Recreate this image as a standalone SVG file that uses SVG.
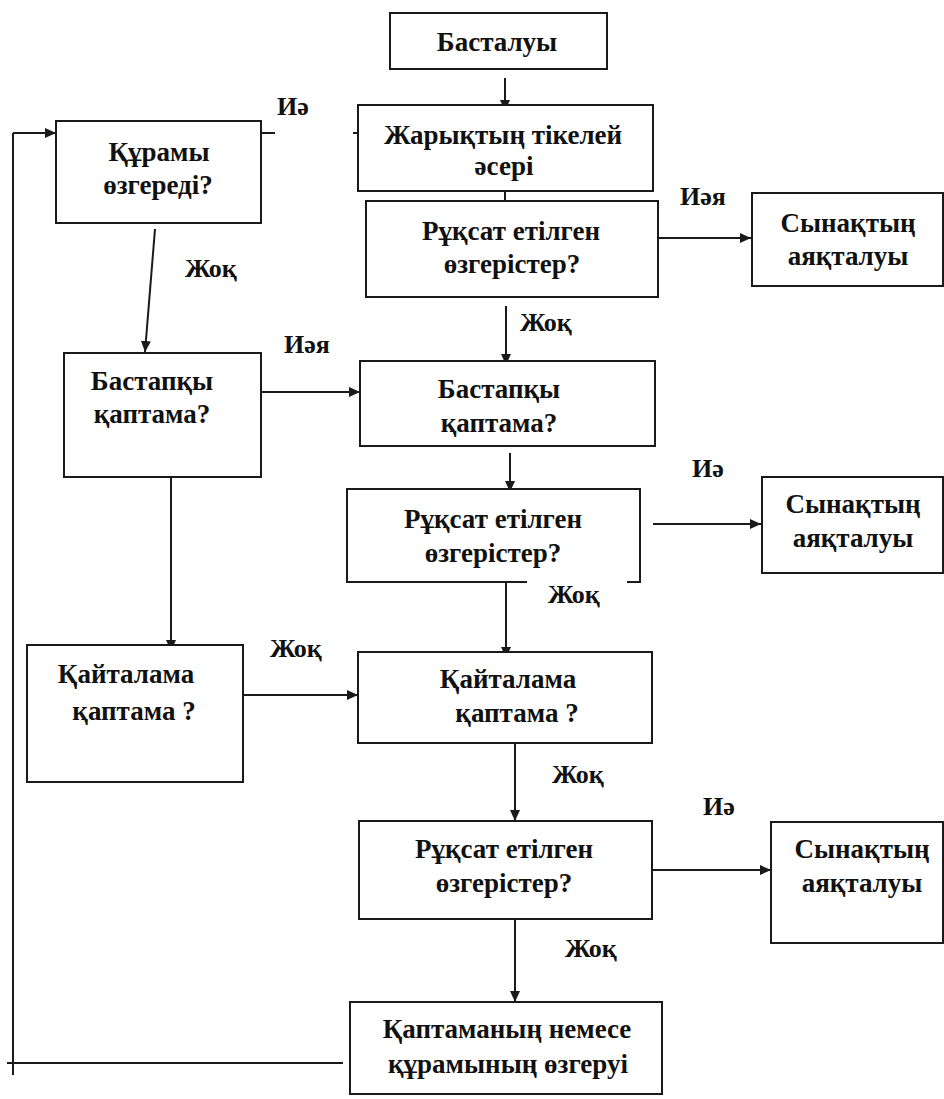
<svg xmlns="http://www.w3.org/2000/svg" width="944" height="1099" viewBox="0 0 944 1099" font-family="Liberation Serif, DejaVu Serif, serif">
<style>
.box{fill:#fff;stroke:#1a1a1a;stroke-width:2}
.t{font-weight:bold;font-size:27px;fill:#111;text-anchor:middle}
.lb{font-weight:bold;font-size:26px;fill:#111}
.c{fill:none;stroke:#1a1a1a;stroke-width:2}
</style>
<defs>
<marker id="ah" markerUnits="userSpaceOnUse" markerWidth="12" markerHeight="10" refX="11" refY="5" orient="auto">
<path d="M0,0 L11,5 L0,10 z" fill="#1a1a1a"/>
</marker>
</defs>
<rect width="944" height="1099" fill="#fff"/>
<g id="connectors">
<line class="c" x1="505" y1="78" x2="505" y2="111" marker-end="url(#ah)"/>
<line class="c" x1="505" y1="180" x2="505" y2="216" marker-end="url(#ah)"/>
<line class="c" x1="653" y1="238" x2="751" y2="238" marker-end="url(#ah)"/>
<line class="c" x1="506" y1="306" x2="506" y2="365" marker-end="url(#ah)"/>
<line class="c" x1="262" y1="133" x2="275" y2="133"/>
<line class="c" x1="353" y1="133" x2="358" y2="133"/>
<line class="c" x1="155" y1="229" x2="145" y2="352" marker-end="url(#ah)"/>
<line class="c" x1="262" y1="392" x2="360" y2="392" marker-end="url(#ah)"/>
<line class="c" x1="510" y1="453" x2="510" y2="492" marker-end="url(#ah)"/>
<line class="c" x1="653" y1="524" x2="761" y2="524" marker-end="url(#ah)"/>
<line class="c" x1="506" y1="578" x2="506" y2="658" marker-end="url(#ah)"/>
<line class="c" x1="171" y1="477" x2="171" y2="651" marker-end="url(#ah)"/>
<line class="c" x1="243" y1="695" x2="358" y2="695" marker-end="url(#ah)"/>
<line class="c" x1="515" y1="743" x2="515" y2="821" marker-end="url(#ah)"/>
<line class="c" x1="652" y1="870" x2="771" y2="870" marker-end="url(#ah)"/>
<line class="c" x1="515" y1="919" x2="515" y2="1002" marker-end="url(#ah)"/>
<line class="c" x1="7" y1="1063" x2="343" y2="1063"/>
<line class="c" x1="13" y1="1075" x2="13" y2="133"/>
<line class="c" x1="13" y1="133" x2="56" y2="133" marker-end="url(#ah)"/>
</g>
<g id="n-start"><rect class="box" x="390" y="13" width="217" height="56"/><text class="t" x="497" y="51">Басталуы</text></g>
<g id="n-light"><rect class="box" x="358" y="105" width="295" height="86"/><text class="t" x="503" y="144">Жарықтың тікелей</text><text class="t" x="504" y="175">әсері</text></g>
<g id="n-check1"><rect class="box" x="366" y="201" width="292" height="96"/><text class="t" x="511" y="240">Рұқсат етілген</text><text class="t" x="512" y="273">өзгерістер?</text></g>
<g id="n-end1"><rect class="box" x="752" y="193" width="191" height="93"/><text class="t" x="848" y="232">Сынақтың</text><text class="t" x="848" y="265">аяқталуы</text></g>
<g id="n-comp"><rect class="box" x="56" y="121" width="205" height="102"/><text class="t" x="159" y="161">Құрамы</text><text class="t" x="158" y="194">өзгереді?</text></g>
<g id="n-pack-l"><rect class="box" x="64" y="353" width="197" height="124"/><text class="t" x="152" y="390">Бастапқы</text><text class="t" x="152" y="423">қаптама?</text></g>
<g id="n-pack-r"><rect class="box" x="360" y="361" width="295" height="85"/><text class="t" x="499" y="398">Бастапқы</text><text class="t" x="499" y="432">қаптама?</text></g>
<g id="n-check2"><rect class="box" x="347" y="489" width="293" height="93"/><text class="t" x="493" y="528">Рұқсат етілген</text><text class="t" x="493" y="562">өзгерістер?</text></g>
<g id="n-end2"><rect class="box" x="762" y="477" width="181" height="96"/><text class="t" x="853" y="513">Сынақтың</text><text class="t" x="853" y="547">аяқталуы</text></g>
<g id="n-rep-l"><rect class="box" x="27" y="645" width="216" height="137"/><text class="t" x="126" y="683">Қайталама</text><text class="t" x="134" y="720">қаптама ?</text></g>
<g id="n-rep-r"><rect class="box" x="358" y="652" width="294" height="91"/><text class="t" x="508" y="688">Қайталама</text><text class="t" x="517" y="722">қаптама ?</text></g>
<g id="n-check3"><rect class="box" x="359" y="821" width="293" height="98"/><text class="t" x="504" y="858">Рұқсат етілген</text><text class="t" x="504" y="892">өзгерістер?</text></g>
<g id="n-end3"><rect class="box" x="771" y="822" width="172" height="121"/><text class="t" x="862" y="858">Сынақтың</text><text class="t" x="862" y="892">аяқталуы</text></g>
<g id="n-change"><rect class="box" x="350" y="1002" width="312" height="92"/><text class="t" x="507" y="1038">Қаптаманың немесе</text><text class="t" x="508" y="1073">құрамының өзгеруі</text></g>
<g id="labels">
<text class="lb" x="277" y="115">Иә</text>
<text class="lb" x="185" y="277">Жоқ</text>
<text class="lb" x="680" y="205">Иәя</text>
<text class="lb" x="520" y="331">Жоқ</text>
<text class="lb" x="284" y="353">Иәя</text>
<text class="lb" x="692" y="477">Иә</text>
<rect x="527" y="576" width="100" height="34" fill="#fff"/>
<text class="lb" x="548" y="603">Жоқ</text>
<text class="lb" x="270" y="657">Жоқ</text>
<text class="lb" x="552" y="783">Жоқ</text>
<text class="lb" x="703" y="815">Иә</text>
<text class="lb" x="565" y="957">Жоқ</text>
</g>
</svg>
